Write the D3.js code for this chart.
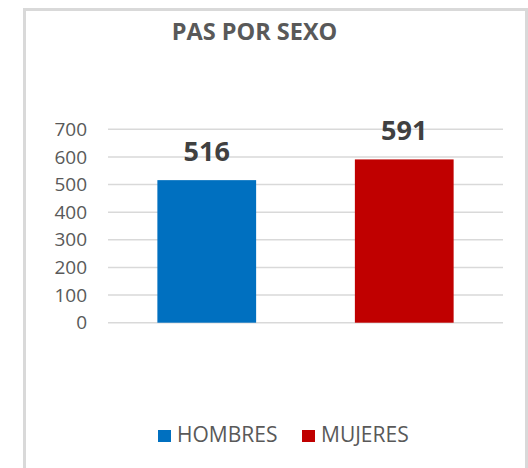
<!DOCTYPE html>
<html><head><meta charset="utf-8">
<script src="https://cdn.jsdelivr.net/npm/d3@7"></script>
<style>html,body{margin:0;padding:0;background:#fff;}svg{display:block;}</style>
</head><body>
<svg id="c" width="528" height="468"></svg>
<script>
const categories = ["HOMBRES", "MUJERES"];
const values = [516, 591];
const colors = ["#0070C0", "#C00000"];
const yTicks = [0, 100, 200, 300, 400, 500, 600, 700];
const title = "PAS POR SEXO";

const svg = d3.select("#c");
const font = "'Open Sans', sans-serif";

// frame
svg.append("path").attr("d", "M24.5,468 V9.5 H526.5 V468")
  .attr("fill", "none").attr("stroke", "#d9d9d9").attr("stroke-width", 3);

const x0 = 108, x1 = 503, yTop = 129.3, yBot = 322.7;
const xb = d3.scaleBand().domain(categories).range([x0, x1]).paddingInner(0.5).paddingOuter(0.25);
const y = d3.scaleLinear().domain([0, 700]).range([yBot, yTop]);

// gridlines
svg.append("g").selectAll("line").data(yTicks).join("line")
  .attr("x1", x0).attr("x2", x1)
  .attr("y1", d => y(d)).attr("y2", d => y(d))
  .attr("stroke", "#d9d9d9").attr("stroke-width", 1.5);

// y axis
const ax = svg.append("g").attr("transform", `translate(${x0},0)`)
  .call(d3.axisLeft(y).tickValues(yTicks).tickSize(0).tickPadding(21));
ax.select(".domain").remove();
ax.selectAll("text").attr("font-family", font).attr("font-size", 19).attr("fill", "#595959");

// bars
svg.append("g").selectAll("rect").data(values).join("rect")
  .attr("x", (d, i) => xb(categories[i]))
  .attr("width", xb.bandwidth())
  .attr("y", d => y(d))
  .attr("height", d => y(0) - y(d))
  .attr("fill", (d, i) => colors[i]);

// labels
svg.append("g").selectAll("text").data(values).join("text")
  .attr("x", (d, i) => xb(categories[i]) + xb.bandwidth() / 2)
  .attr("y", d => y(d) - 19)
  .attr("text-anchor", "middle")
  .attr("font-family", font).attr("font-weight", "bold").attr("font-size", 27)
  .attr("fill", "#404040")
  .text(d => d);

// title
svg.append("text").attr("x", 254.5).attr("y", 40).attr("text-anchor", "middle")
  .attr("font-family", font).attr("font-weight", "bold").attr("font-size", 23.5)
  .attr("fill", "#595959").text(title);

// legend
const legX = [158, 302];
const lg = svg.append("g").selectAll("g").data(categories).join("g")
  .attr("transform", (d, i) => `translate(${legX[i]},0)`);
lg.append("rect").attr("x", 0).attr("y", 430).attr("width", 13).attr("height", 12)
  .attr("fill", (d, i) => colors[i]);
lg.append("text").attr("x", 19).attr("y", 442)
  .attr("font-family", font).attr("font-size", 21).attr("fill", "#595959")
  .text(d => d);
</script>
</body></html>
